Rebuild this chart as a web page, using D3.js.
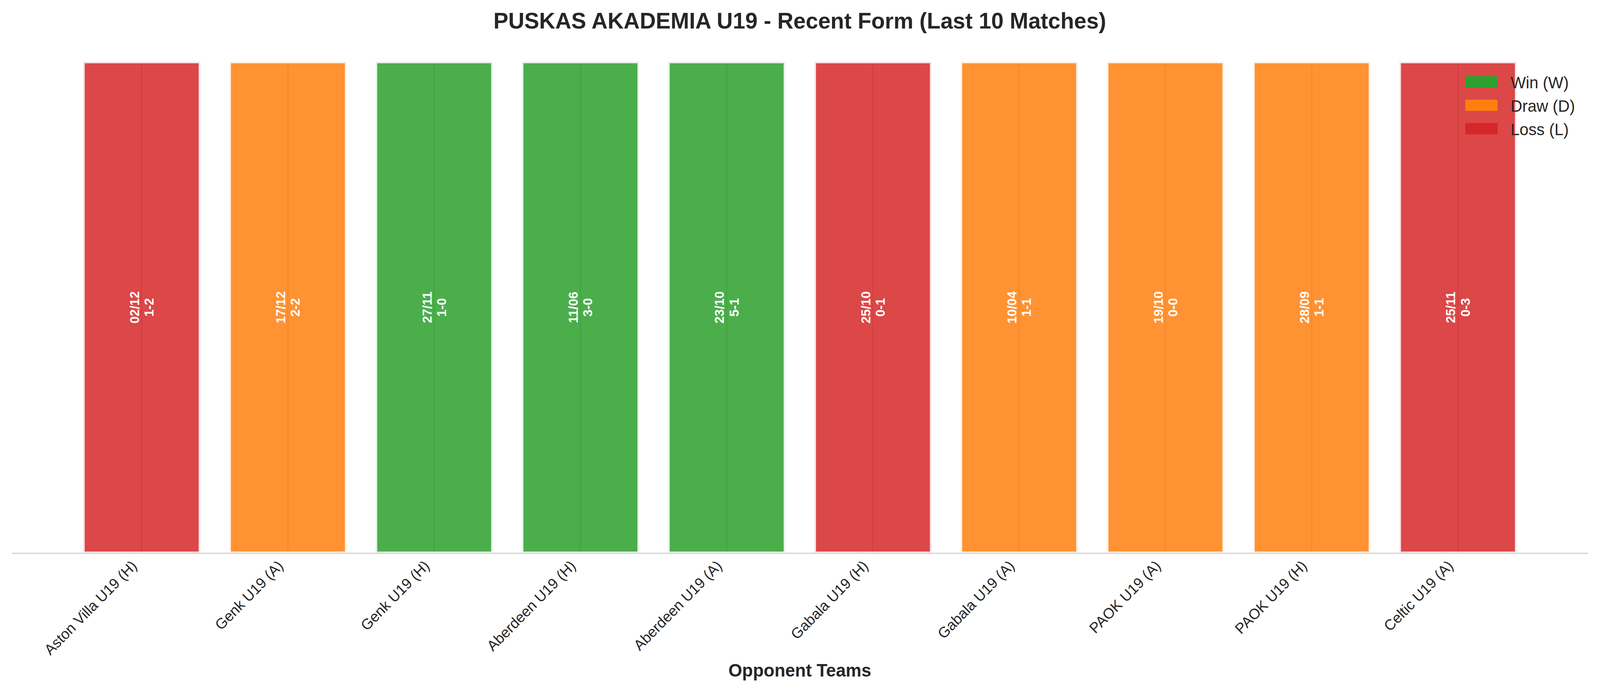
<!DOCTYPE html>
<html>
<head>
<meta charset="utf-8">
<script src="https://cdn.jsdelivr.net/npm/d3@7"></script>
<style>
  html, body { margin: 0; padding: 0; background: #fff; overflow: hidden; }
  svg { display: block; width: 100vw; height: 100vh; font-family: "Liberation Sans", Arial, sans-serif; }
</style>
</head>
<body>
<svg id="formChart"></svg>
<script>
// last 10 matches, as plotted left to right
const teams = [
  "Aston Villa U19 (H)", "Genk U19 (A)", "Genk U19 (H)", "Aberdeen U19 (H)",
  "Aberdeen U19 (A)", "Gabala U19 (H)", "Gabala U19 (A)", "PAOK U19 (A)",
  "PAOK U19 (H)", "Celtic U19 (A)"
];
const results = ["L", "D", "W", "W", "W", "L", "D", "D", "D", "L"];
const dates = ["02/12", "17/12", "27/11", "11/06", "23/10", "25/10", "10/04", "19/10", "28/09", "25/11"];
const scores = ["1-2", "2-2", "1-0", "3-0", "5-1", "0-1", "1-1", "0-0", "1-1", "0-3"];
const barValues = [1, 1, 1, 1, 1, 1, 1, 1, 1, 1];

const legendKeys = ["W", "D", "L"];
const legendLabels = ["Win (W)", "Draw (D)", "Loss (L)"];
const resultColors = { W: "#2ca02c", D: "#ff7f0e", L: "#d62728" };

const width = 4170,
  height = 1769;
const margin = { top: 158, right: 31, bottom: 353, left: 30 };
const textColor = "#262626";

const svg = d3
  .select("#formChart")
  .attr("viewBox", `0 0 ${width} ${height}`)
  .attr("preserveAspectRatio", "none");

const x = d3
  .scaleBand()
  .domain(teams)
  .range([margin.left, width - margin.right])
  .paddingInner(0.2)
  .paddingOuter(0.49);

const y = d3
  .scaleLinear()
  .domain([0, 1])
  .range([height - margin.bottom, margin.top]);

const cx = (d) => x(d) + x.bandwidth() / 2;

// vertical grid lines (only visible through the bars)
svg
  .append("g")
  .selectAll("line")
  .data(teams)
  .enter()
  .append("line")
  .attr("x1", cx)
  .attr("x2", cx)
  .attr("y1", y(1))
  .attr("y2", y(0))
  .attr("stroke", "#c4c4c4")
  .attr("stroke-width", 3);

// bars
svg
  .append("g")
  .selectAll("rect")
  .data(teams)
  .enter()
  .append("rect")
  .attr("x", (d) => x(d))
  .attr("y", (d, i) => y(barValues[i]))
  .attr("width", x.bandwidth())
  .attr("height", (d, i) => y(0) - y(barValues[i]))
  .attr("fill", (d, i) => resultColors[results[i]])
  .attr("fill-opacity", 0.85)
  .attr("stroke", "#fff")
  .attr("stroke-opacity", 0.85)
  .attr("stroke-width", 8);

// date + score labels inside bars
const labels = svg
  .append("g")
  .selectAll("text")
  .data(teams)
  .enter()
  .append("text")
  .attr("transform", (d, i) => `translate(${cx(d) - 19},${y(barValues[i] / 2)}) rotate(-90)`)
  .attr("text-anchor", "middle")
  .attr("fill", "#fff")
  .attr("font-weight", "bold")
  .attr("font-size", 33);

labels
  .append("tspan")
  .attr("x", 0)
  .attr("dy", "0.36em")
  .text((d, i) => dates[i]);

labels
  .append("tspan")
  .attr("x", 0)
  .attr("dy", 38)
  .text((d, i) => scores[i]);

// X axis
const xAxis = svg
  .append("g")
  .attr("transform", `translate(0,${y(0)})`)
  .call(d3.axisBottom(x).tickSize(0).tickSizeOuter(0));

xAxis.select(".domain").attr("stroke", "#cccccc").attr("stroke-width", 2.5);

xAxis
  .selectAll("text")
  .attr("y", null)
  .attr("dy", null)
  .attr("text-anchor", "end")
  .attr("transform", "translate(-10,35) rotate(-45)")
  .attr("fill", textColor)
  .attr("font-size", 38)
  .attr("font-family", "Liberation Sans, Arial, sans-serif");

// Labels
svg
  .append("text")
  .attr("x", (margin.left + width - margin.right) / 2)
  .attr("y", 73)
  .attr("text-anchor", "middle")
  .attr("font-weight", "bold")
  .attr("font-size", 58)
  .attr("fill", textColor)
  .text("PUSKAS AKADEMIA U19 - Recent Form (Last 10 Matches)");

svg
  .append("text")
  .attr("x", (margin.left + width - margin.right) / 2)
  .attr("y", 1732)
  .attr("text-anchor", "middle")
  .attr("font-weight", "bold")
  .attr("font-size", 46)
  .attr("fill", textColor)
  .text("Opponent Teams");

// Legend (no frame)
const legend = svg
  .append("g")
  .selectAll("g")
  .data(legendKeys)
  .enter()
  .append("g")
  .attr("transform", (d, i) => `translate(3819,${195 + i * 60})`);

legend
  .append("rect")
  .attr("width", 84)
  .attr("height", 29)
  .attr("fill", (d) => resultColors[d]);

legend
  .append("text")
  .attr("x", 118)
  .attr("y", 31)
  .attr("font-size", 42)
  .attr("fill", textColor)
  .text((d, i) => legendLabels[i]);
</script>
</body>
</html>
